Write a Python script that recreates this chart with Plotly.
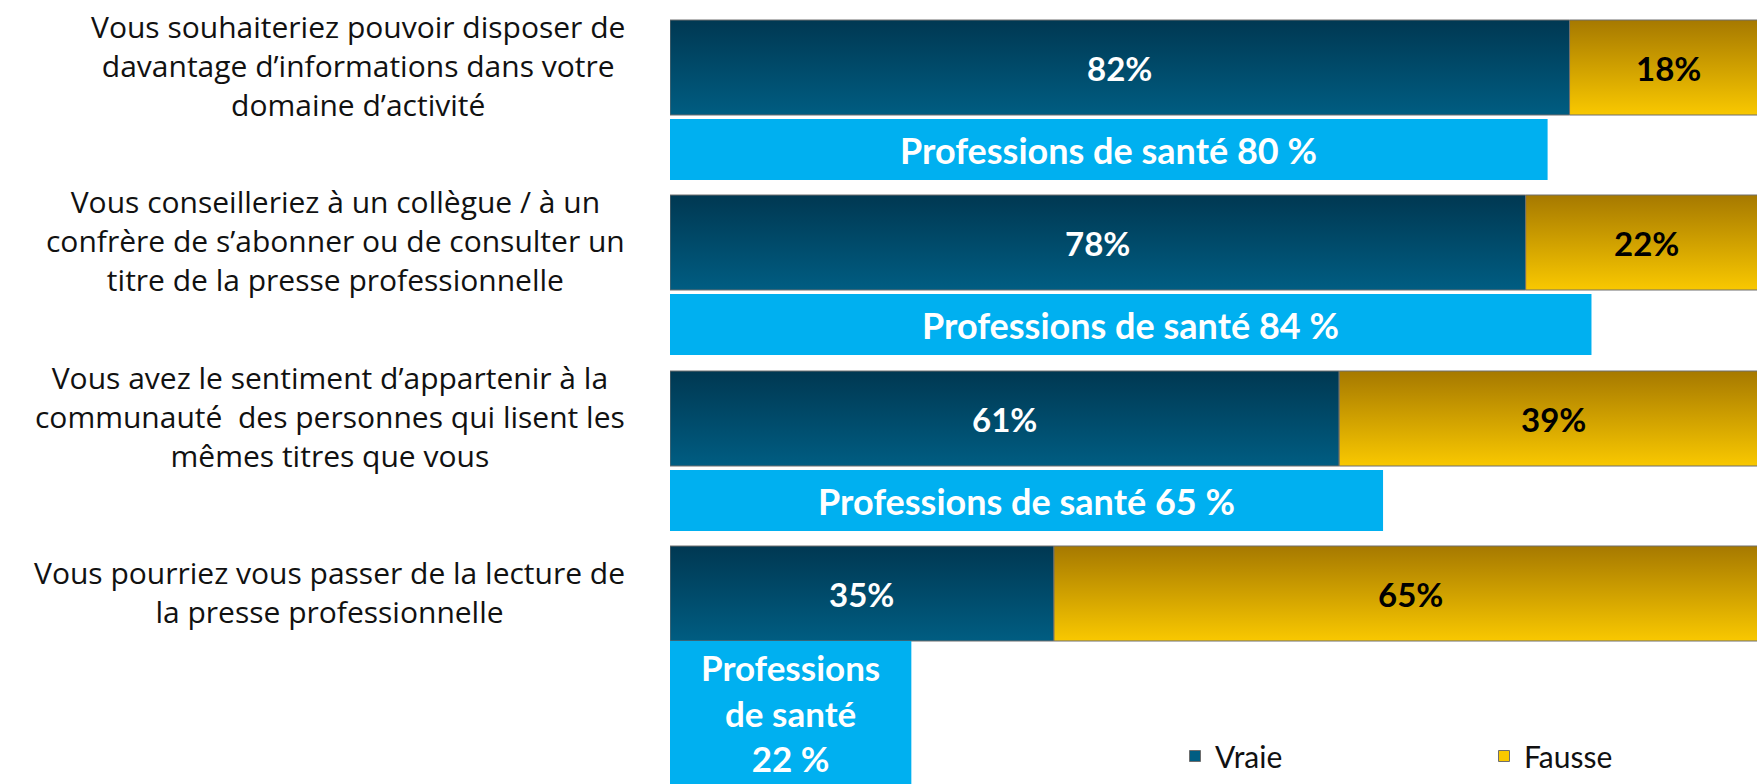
import plotly.graph_objects as go

# ---- data ----
categories = [
    "Vous souhaiteriez pouvoir disposer de<br>davantage d’informations dans votre<br>domaine d’activité",
    "Vous conseilleriez à un collègue / à un<br>confrère de s’abonner ou de consulter un<br>titre de la presse professionnelle",
    "Vous avez le sentiment d’appartenir à la<br>communauté  des personnes qui lisent les<br>mêmes titres que vous",
    "Vous pourriez vous passer de la lecture de<br>la presse professionnelle",
]
vraie = [82, 78, 61, 35]
fausse = [18, 22, 39, 65]
sante = [80, 84, 65, 22]
sante_labels = [
    "Professions de santé 80 %",
    "Professions de santé 84 %",
    "Professions de santé 65 %",
    "Professions<br>de santé<br>22 %",
]
series_names = ["Vraie", "Fausse"]

# ---- layout geometry (pixel units on the y axis) ----
W, H = 1757, 784
L = 670
px_per_pct = 1097.0
dark_top = [20, 195, 371, 546]
dark_h = 95
light_gap = 99
light_h = 61

DARK_TOP, DARK_BOT = "#003852", "#005d82"
GOLD_TOP, GOLD_BOT = "#a67900", "#f9c800"
LIGHT = "#00b0f0"
BORDER = "#6e6e6e"

fig = go.Figure()

def rect(x0, x1, y0, y1, top, bot, name, border=True):
    fig.add_trace(go.Scatter(
        x=[x0, x1, x1, x0, x0], y=[y0, y0, y1, y1, y0],
        mode="lines", fill="toself",
        fillgradient=dict(type="vertical", colorscale=[[0, top], [1, bot]], start=y0, stop=y1),
        line=dict(color=BORDER if border else top, width=1 if border else 0),
        showlegend=False, hoverinfo="skip", name=name))

for i in range(len(categories)):
    t = dark_top[i]
    b = t + dark_h
    rect(0, vraie[i], t, b, DARK_TOP, DARK_BOT, "Vraie")
    rect(vraie[i], vraie[i] + fausse[i], t, b, GOLD_TOP, GOLD_BOT, "Fausse")
    last = i == len(categories) - 1
    if not last:
        lt = t + light_gap
        lb = lt + light_h
    else:
        lt = b
        lb = H
    rect(0, sante[i], lt, lb, LIGHT, LIGHT, "Professions de santé", border=False)
    fig.add_annotation(x=sante[i] / 2, y=(lt + lb) / 2, xref="x", yref="y",
                       text="<b>" + sante_labels[i] + "</b>", showarrow=False,
                       font=dict(family="Lato", size=35 if last else 36, color="white"),
                       align="center")
    fig.add_annotation(x=vraie[i] / 2, y=(t + b) / 2, xref="x", yref="y",
                       text="<b>%d%%</b>" % vraie[i], showarrow=False,
                       font=dict(family="Lato", size=33, color="white"))
    fig.add_annotation(x=vraie[i] + fausse[i] / 2, y=(t + b) / 2, xref="x", yref="y",
                       text="<b>%d%%</b>" % fausse[i], showarrow=False,
                       font=dict(family="Lato", size=33, color="black"))
    fig.add_annotation(x=-(43 / (W - L)), y=(t + b) / 2 - 2, xref="paper", yref="y",
                       xanchor="right", align="center", text=categories[i], showarrow=False,
                       font=dict(family="Open Sans", size=30, color="#111111"))

# legend entries (one legend per series, placed separately)
for name, col, lg in zip(series_names, [DARK_BOT, GOLD_BOT], ["legend", "legend2"]):
    fig.add_trace(go.Scatter(x=[None], y=[None], mode="markers", name=name, legend=lg,
                             marker=dict(symbol="square", size=11, color=col,
                                         line=dict(color=BORDER, width=1))))

legend_common = dict(orientation="h", xanchor="left", yanchor="middle",
                     font=dict(family="Lato", size=30, color="#111111"),
                     bgcolor="rgba(0,0,0,0)", itemwidth=30)

fig.update_layout(
    width=W, height=H,
    margin=dict(l=L, r=0, t=0, b=0, autoexpand=False),
    paper_bgcolor="white", plot_bgcolor="white",
    xaxis=dict(range=[0, (W - L) / px_per_pct * 100], visible=False, fixedrange=True),
    yaxis=dict(range=[H, 0], visible=False, fixedrange=True),
    showlegend=True,
    legend=dict(x=(1175 - L) / (W - L), y=1 - 756 / H, **legend_common),
    legend2=dict(x=(1484 - L) / (W - L), y=1 - 756 / H, **legend_common),
)

fig.write_html("out.html", config={"displayModeBar": False},
               post_script="document.body.style.margin='0';document.body.style.overflow='hidden';")
